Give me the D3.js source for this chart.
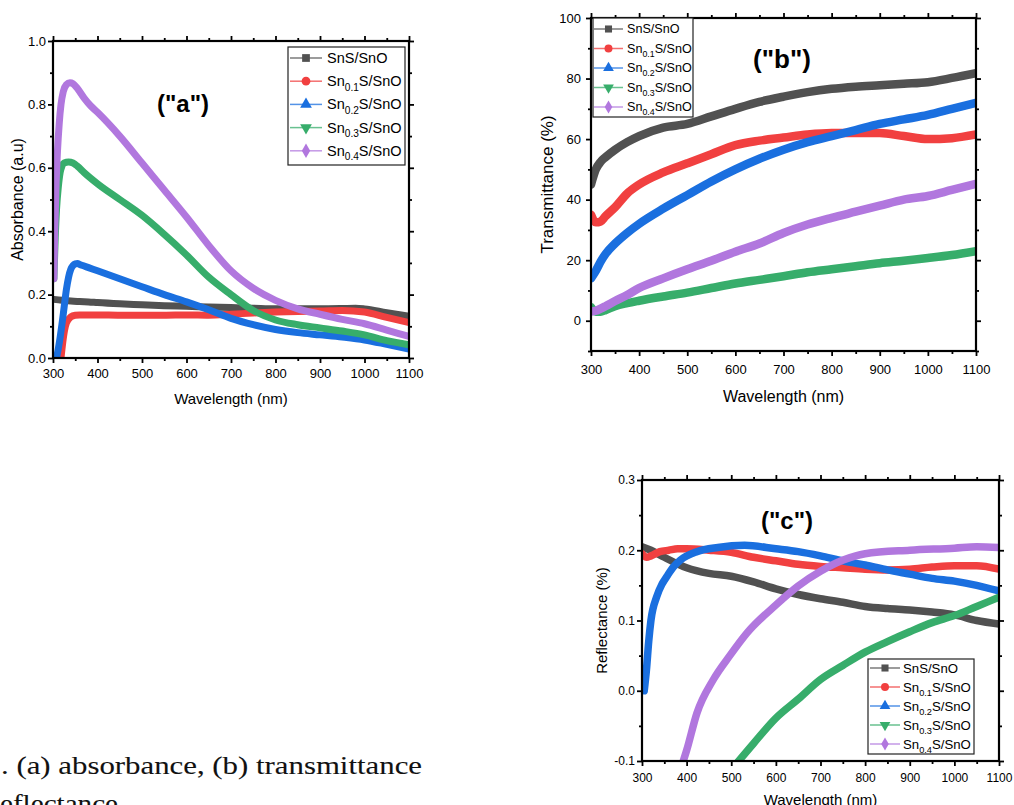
<!DOCTYPE html>
<html><head><meta charset="utf-8">
<script src="https://cdn.jsdelivr.net/npm/d3@7"></script>
<style>body{margin:0;background:#fff} svg{display:block}</style>
</head><body>
<svg id="chart" width="1014" height="805"></svg>
<script>
// ================= DATA =================
const seriesBase = ["Sn", "Sn", "Sn", "Sn", "Sn"];
const seriesSub  = ["", "0.1", "0.2", "0.3", "0.4"];
const seriesTail = ["S/SnO", "S/SnO", "S/SnO", "S/SnO", "S/SnO"];
const seriesColors = ["#515151", "#F14040", "#1A6FDF", "#37AD6B", "#B177DE"];
const seriesSymbols = ["square", "circle", "triangleUp", "triangleDown", "diamond"];

const wavelengthTicks = [300, 400, 500, 600, 700, 800, 900, 1000, 1100];
const absTicks = [0, 0.2, 0.4, 0.6, 0.8, 1.0];
const transTicks = [0, 20, 40, 60, 80, 100];
const reflTicks = [-0.1, 0, 0.1, 0.2, 0.3];

// (a) Absorbance
const absWl0 = [302, 320, 340, 360, 380, 400, 450, 500, 550, 600, 650, 700, 750, 800, 850, 900, 950, 980, 1000, 1050, 1100];
const abs0   = [0.185, 0.182, 0.180, 0.178, 0.177, 0.175, 0.171, 0.168, 0.165, 0.163, 0.161, 0.159, 0.157, 0.155, 0.155, 0.155, 0.156, 0.157, 0.155, 0.143, 0.132];
const absWl1 = [318, 322, 326, 330, 340, 350, 360, 400, 450, 500, 550, 600, 650, 700, 750, 800, 850, 900, 950, 1000, 1050, 1100];
const abs1   = [0.0, 0.05, 0.088, 0.11, 0.13, 0.135, 0.136, 0.136, 0.135, 0.135, 0.135, 0.136, 0.135, 0.138, 0.142, 0.145, 0.147, 0.148, 0.150, 0.145, 0.128, 0.112];
const absWl2 = [308, 312, 316, 320, 325, 330, 335, 340, 345, 350, 355, 360, 370, 380, 400, 450, 500, 550, 600, 650, 700, 750, 800, 850, 900, 950, 1000, 1050, 1100];
const abs2   = [0.0, 0.03, 0.065, 0.105, 0.16, 0.215, 0.255, 0.28, 0.292, 0.297, 0.298, 0.295, 0.29, 0.285, 0.275, 0.25, 0.225, 0.2, 0.177, 0.152, 0.125, 0.105, 0.09, 0.08, 0.073, 0.066, 0.057, 0.043, 0.028];
const absWl3 = [302, 305, 308, 312, 316, 320, 325, 335, 345, 355, 370, 400, 450, 500, 550, 600, 650, 700, 750, 800, 850, 900, 950, 1000, 1050, 1100];
const abs3   = [0.25, 0.38, 0.47, 0.54, 0.585, 0.605, 0.615, 0.618, 0.615, 0.605, 0.585, 0.55, 0.5, 0.45, 0.39, 0.325, 0.255, 0.2, 0.15, 0.12, 0.105, 0.095, 0.085, 0.073, 0.055, 0.042];
const absWl4 = [302, 304, 307, 310, 314, 318, 323, 330, 338, 345, 355, 370, 385, 400, 450, 500, 550, 600, 650, 700, 750, 800, 850, 900, 950, 1000, 1050, 1100];
const abs4   = [0.25, 0.4, 0.55, 0.65, 0.74, 0.8, 0.84, 0.862, 0.868, 0.865, 0.85, 0.82, 0.795, 0.775, 0.70, 0.615, 0.53, 0.445, 0.355, 0.275, 0.22, 0.182, 0.155, 0.138, 0.122, 0.108, 0.088, 0.068];

// (b) Transmittance (%)
const transWl = [300, 310, 320, 330, 350, 375, 400, 450, 500, 550, 600, 650, 700, 750, 800, 850, 900, 950, 1000, 1050, 1100];
const trans0 = [45, 50, 52.5, 54, 56.5, 59, 61, 63.8, 65, 67.5, 70, 72.3, 74, 75.5, 76.6, 77.3, 77.8, 78.3, 78.8, 80.2, 81.8];
const trans1 = [35, 32.5, 32.8, 34.5, 37.5, 42, 45, 49, 52, 55, 58, 59.5, 60.5, 61.5, 62, 62, 62, 61, 60, 60.3, 61.5];
const trans2 = [14, 16.5, 19.5, 22, 25.5, 29, 32, 37, 41.5, 46, 50, 53.5, 56.5, 59, 61, 63, 65, 66.5, 68, 70, 72];
const trans3 = [4.5, 3, 3, 3.5, 4.8, 5.8, 6.6, 8, 9.3, 10.8, 12.3, 13.5, 14.7, 16, 17, 18, 19, 19.8, 20.7, 21.7, 23];
const trans4 = [3, 3.3, 4, 4.8, 6.5, 8.5, 10.8, 14, 17, 19.8, 22.8, 25.5, 29, 31.8, 34, 36, 38, 40, 41.2, 43.2, 45.2];

// (c) Reflectance
const reflWl0 = [300, 320, 350, 400, 450, 500, 550, 600, 650, 700, 750, 800, 850, 900, 950, 1000, 1050, 1100];
const refl0   = [0.205, 0.2, 0.19, 0.175, 0.167, 0.163, 0.155, 0.145, 0.137, 0.131, 0.126, 0.12, 0.117, 0.115, 0.112, 0.108, 0.1, 0.095];
const reflWl1 = [300, 310, 320, 340, 360, 380, 400, 450, 500, 550, 600, 650, 700, 750, 800, 850, 900, 950, 1000, 1050, 1100];
const refl1   = [0.195, 0.19, 0.192, 0.198, 0.2, 0.202, 0.202, 0.2, 0.197, 0.19, 0.185, 0.18, 0.177, 0.175, 0.173, 0.172, 0.173, 0.176, 0.178, 0.178, 0.173];
const reflWl2 = [305, 310, 315, 320, 333, 345, 356, 370, 386, 423, 470, 530, 600, 650, 700, 750, 800, 850, 900, 950, 1000, 1050, 1100];
const refl2   = [0.0, 0.03, 0.07, 0.1, 0.134, 0.152, 0.163, 0.176, 0.186, 0.198, 0.204, 0.207, 0.202, 0.198, 0.192, 0.185, 0.179, 0.172, 0.166, 0.16, 0.156, 0.15, 0.142];
const reflWl3 = [510, 550, 600, 650, 700, 750, 800, 850, 900, 950, 1000, 1050, 1100];
const refl3   = [-0.105, -0.075, -0.039, -0.012, 0.016, 0.036, 0.055, 0.07, 0.084, 0.097, 0.107, 0.12, 0.133];
const reflWl4 = [390, 400, 423, 460, 498, 535, 600, 650, 700, 751, 800, 900, 1000, 1050, 1100];
const refl4   = [-0.105, -0.085, -0.032, 0.016, 0.051, 0.082, 0.122, 0.149, 0.17, 0.186, 0.195, 0.2, 0.203, 0.205, 0.204];

const captionLine1 = ". (a) absorbance, (b) transmittance";
const captionLine2 = "eflectance";

// ================= DRAW =================
const svg = d3.select("#chart");
const FONT = "Liberation Sans, Arial, sans-serif";

function symbolPath(name, size) {
  const map = {square: d3.symbolSquare, circle: d3.symbolCircle, triangleUp: d3.symbolTriangle,
               triangleDown: d3.symbolTriangle, diamond: d3.symbolDiamond};
  return d3.symbol().type(map[name]).size(size)();
}

function drawPanel(cfg, idx) {
  const g = svg.append("g");
  const x = d3.scaleLinear().domain([300, 1100]).range([cfg.left, cfg.right]);
  const y = d3.scaleLinear().domain(cfg.yDomain).range([cfg.bottom, cfg.top]);

  const clipId = "clip" + idx;
  svg.append("clipPath").attr("id", clipId).append("rect")
    .attr("x", cfg.left).attr("y", cfg.top)
    .attr("width", cfg.right - cfg.left).attr("height", cfg.bottom - cfg.top);

  // curves
  const line = d3.line().x(d => x(d[0])).y(d => y(d[1])).curve(d3.curveMonotoneX);
  const cg = g.append("g").attr("clip-path", `url(#${clipId})`);
  cfg.series.forEach((s, i) => {
    const pts = s.wl.map((w, k) => [w, s.v[k]]);
    cg.append("path").attr("d", line(pts)).attr("fill", "none")
      .attr("stroke", seriesColors[i]).attr("stroke-width", cfg.lw)
      .attr("stroke-linejoin", "round").attr("stroke-linecap", "round");
  });

  // axes
  const xMinor = d3.range(350, 1100, 100);
  const yMinor = cfg.yMinor;
  const fmtY = cfg.fmt;
  function styleAxis(sel, fs) {
    sel.select(".domain").remove();
    sel.selectAll("line").attr("stroke", "#000").attr("stroke-width", 1.8);
    sel.selectAll("text").attr("font-family", FONT).attr("font-size", fs).attr("fill", "#000");
  }
  g.append("g").attr("transform", `translate(0,${cfg.bottom})`)
    .call(d3.axisBottom(x).tickValues(wavelengthTicks).tickSize(5).tickPadding(cfg.xPad).tickFormat(d3.format("d")))
    .call(s => styleAxis(s, cfg.tickFs));
  g.append("g").attr("transform", `translate(0,${cfg.bottom})`)
    .call(d3.axisBottom(x).tickValues(xMinor).tickSize(3).tickFormat(""))
    .call(s => styleAxis(s, cfg.tickFs));
  g.append("g").attr("transform", `translate(0,${cfg.top})`)
    .call(d3.axisTop(x).tickValues(wavelengthTicks).tickSize(5).tickFormat(""))
    .call(s => styleAxis(s, cfg.tickFs));
  g.append("g").attr("transform", `translate(0,${cfg.top})`)
    .call(d3.axisTop(x).tickValues(xMinor).tickSize(3).tickFormat(""))
    .call(s => styleAxis(s, cfg.tickFs));
  g.append("g").attr("transform", `translate(${cfg.left},0)`)
    .call(d3.axisLeft(y).tickValues(cfg.yTicks).tickSize(5).tickPadding(cfg.yPad).tickFormat(fmtY))
    .call(s => styleAxis(s, cfg.tickFs));
  g.append("g").attr("transform", `translate(${cfg.left},0)`)
    .call(d3.axisLeft(y).tickValues(yMinor).tickSize(3).tickFormat(""))
    .call(s => styleAxis(s, cfg.tickFs));
  g.append("g").attr("transform", `translate(${cfg.right},0)`)
    .call(d3.axisRight(y).tickValues(cfg.yTicks).tickSize(5).tickFormat(""))
    .call(s => styleAxis(s, cfg.tickFs));
  g.append("g").attr("transform", `translate(${cfg.right},0)`)
    .call(d3.axisRight(y).tickValues(yMinor).tickSize(3).tickFormat(""))
    .call(s => styleAxis(s, cfg.tickFs));

  // frame
  g.append("rect").attr("x", cfg.left).attr("y", cfg.top)
    .attr("width", cfg.right - cfg.left).attr("height", cfg.bottom - cfg.top)
    .attr("fill", "none").attr("stroke", "#000").attr("stroke-width", 2.2);

  // axis titles
  g.append("text").attr("x", (cfg.left + cfg.right) / 2).attr("y", cfg.xTitleY)
    .attr("text-anchor", "middle").attr("dominant-baseline", "central")
    .attr("font-family", FONT).attr("font-size", cfg.xTitleFs).text("Wavelength (nm)");
  g.append("text").attr("transform", `translate(${cfg.yTitleX},${(cfg.top + cfg.bottom) / 2}) rotate(-90)`)
    .attr("text-anchor", "middle").attr("dominant-baseline", "central")
    .attr("font-family", FONT).attr("font-size", cfg.yTitleFs).text(cfg.yTitle);

  // panel label
  g.append("text").attr("x", cfg.labelX).attr("y", cfg.labelY)
    .attr("text-anchor", "middle").attr("dominant-baseline", "central")
    .attr("font-family", FONT).attr("font-weight", "bold").attr("font-size", cfg.labelFs)
    .text(cfg.label);

  // legend
  const L = cfg.legend;
  g.append("rect").attr("x", L.x).attr("y", L.y).attr("width", L.w).attr("height", L.h)
    .attr("fill", "#fff").attr("stroke", "#222").attr("stroke-width", 1.2);
  seriesColors.forEach((c, i) => {
    const yy = L.y0 + i * L.dy;
    g.append("line").attr("x1", L.lx0).attr("x2", L.lx1).attr("y1", yy).attr("y2", yy)
      .attr("stroke", c).attr("stroke-width", 1.5).attr("opacity", 0.75);
    const mx = (L.lx0 + L.lx1) / 2;
    g.append("path").attr("d", symbolPath(seriesSymbols[i], L.ms))
      .attr("transform", `translate(${mx},${yy})` + (seriesSymbols[i] === "triangleDown" ? " rotate(180)" : ""))
      .attr("fill", c);
    const t = g.append("text").attr("x", L.tx).attr("y", yy).attr("dy", "0.35em")
      .attr("font-family", FONT).attr("font-size", L.fs).attr("fill", "#000");
    if (seriesSub[i] === "") {
      t.text(seriesBase[i] + seriesTail[i]);
    } else {
      t.append("tspan").text(seriesBase[i]);
      t.append("tspan").attr("font-size", L.fs * 0.7).attr("dy", L.fs * 0.3).text(seriesSub[i]);
      t.append("tspan").attr("dy", -L.fs * 0.3).text(seriesTail[i]);
    }
  });
}

const fmt1 = v => v.toFixed(1);

drawPanel({
  left: 53, right: 409, top: 41, bottom: 358, yDomain: [0, 1.0],
  yTicks: absTicks, yMinor: [0.1, 0.3, 0.5, 0.7, 0.9], fmt: fmt1,
  tickFs: 13, xPad: 6, yPad: 2, lw: 7,
  xTitleY: 398, xTitleFs: 15, yTitleX: 17, yTitleFs: 16, yTitle: "Absorbance (a.u)",
  label: '("a")', labelX: 183, labelY: 103, labelFs: 24,
  series: [{wl: absWl0, v: abs0}, {wl: absWl1, v: abs1}, {wl: absWl2, v: abs2}, {wl: absWl3, v: abs3}, {wl: absWl4, v: abs4}],
  legend: {x: 288, y: 47, w: 117, h: 118, y0: 58, dy: 23.2, lx0: 290, lx1: 322, tx: 327, fs: 14.5, ms: 60}
}, 0);

drawPanel({
  left: 591, right: 976, top: 18, bottom: 351, yDomain: [-10, 100],
  yTicks: transTicks, yMinor: [-10, 10, 30, 50, 70, 90], fmt: d3.format("d"),
  tickFs: 13, xPad: 9, yPad: 5, lw: 8.5,
  xTitleY: 396, xTitleFs: 16, yTitleX: 547, yTitleFs: 17, yTitle: "Transmittance (%)",
  label: '("b")', labelX: 782, labelY: 59, labelFs: 26,
  series: [{wl: transWl, v: trans0}, {wl: transWl, v: trans1}, {wl: transWl, v: trans2}, {wl: transWl, v: trans3}, {wl: transWl, v: trans4}],
  legend: {x: 593, y: 18, w: 100, h: 99, y0: 29, dy: 19.5, lx0: 594, lx1: 623, tx: 627, fs: 12.6, ms: 50}
}, 1);

drawPanel({
  left: 642, right: 999, top: 480, bottom: 761, yDomain: [-0.1, 0.3],
  yTicks: reflTicks, yMinor: [-0.05, 0.05, 0.15, 0.25], fmt: fmt1,
  tickFs: 12, xPad: 7, yPad: 2, lw: 7.5,
  xTitleY: 799, xTitleFs: 15, yTitleX: 601, yTitleFs: 15, yTitle: "Reflectance (%)",
  label: '("c")', labelX: 787, labelY: 520, labelFs: 24,
  series: [{wl: reflWl0, v: refl0}, {wl: reflWl1, v: refl1}, {wl: reflWl2, v: refl2}, {wl: reflWl3, v: refl3}, {wl: reflWl4, v: refl4}],
  legend: {x: 868, y: 659, w: 106, h: 95, y0: 668, dy: 19, lx0: 870, lx1: 900, tx: 903, fs: 13.2, ms: 50}
}, 2);

// caption
svg.append("text").attr("x", 1).attr("y", 774)
  .attr("font-family", "Liberation Serif, serif").attr("font-size", 26)
  .attr("textLength", 421).attr("lengthAdjust", "spacingAndGlyphs").attr("fill", "#111")
  .attr("stroke", "#111").attr("stroke-width", 0.1)
  .text(captionLine1);
svg.append("text").attr("x", 0).attr("y", 812)
  .attr("font-family", "Liberation Serif, serif").attr("font-size", 26)
  .attr("textLength", 118).attr("lengthAdjust", "spacingAndGlyphs").attr("fill", "#111")
  .attr("stroke", "#111").attr("stroke-width", 0.1)
  .text(captionLine2);
</script>
</body></html>
